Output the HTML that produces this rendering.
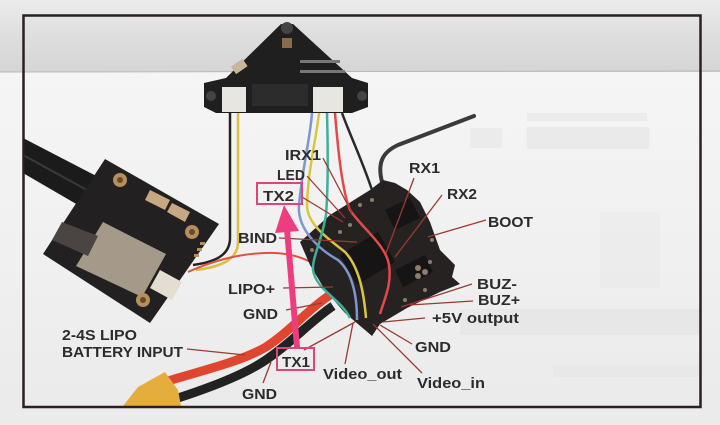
<!DOCTYPE html>
<html><head><meta charset="utf-8"><style>
html,body{margin:0;padding:0;width:720px;height:425px;overflow:hidden;background:#ececec}
svg{display:block}
text{font-family:"Liberation Sans",sans-serif;font-weight:bold;font-size:15px;fill:#2e2b2b}
</style></head><body>
<svg width="720" height="425" viewBox="0 0 720 425" xmlns="http://www.w3.org/2000/svg">
<defs>
<linearGradient id="top" x1="0" y1="0" x2="0" y2="1">
 <stop offset="0" stop-color="#ececec"/>
 <stop offset="0.5" stop-color="#dedede"/>
 <stop offset="1" stop-color="#d5d5d7"/>
</linearGradient>
<linearGradient id="bot" x1="0" y1="0" x2="0" y2="1">
 <stop offset="0" stop-color="#f7f7f7"/>
 <stop offset="0.6" stop-color="#f0f0f0"/>
 <stop offset="1" stop-color="#eaeaea"/>
</linearGradient>
</defs>
<!-- background -->
<rect x="0" y="0" width="720" height="425" fill="url(#bot)"/>
<rect x="0" y="0" width="720" height="72" fill="url(#top)"/>
<line x1="0" y1="72" x2="720" y2="71" stroke="#b9b9b9" stroke-width="1"/>
<rect x="0" y="408" width="720" height="17" fill="#ebebeb"/>
<!-- ghost text from paper -->
<g fill="#dcdcdc" opacity="0.35">
<rect x="470" y="128" width="32" height="20"/>
<rect x="527" y="127" width="122" height="22"/>
<rect x="527" y="113" width="120" height="8"/>
<rect x="600" y="212" width="60" height="76" opacity="0.5"/>
<rect x="460" y="309" width="242" height="26"/>
<rect x="553" y="365" width="150" height="12" opacity="0.6"/>
</g>

<!-- ribbon cable -->
<polygon points="23,138 104,180 90,212 23,173" fill="#1b1b1b"/>
<line x1="23" y1="155" x2="96" y2="195" stroke="#3a3a3a" stroke-width="2"/>

<!-- VTX board -->
<polygon points="105,159 219,224 150,323 43,254" fill="#222020"/>
<polygon points="103,222 166,254 142,297 76,266" fill="#a59a8a"/>
<polygon points="62,222 98,236 88,256 52,240" fill="#4a4542"/>
<polygon points="150,190 170,200 165,210 145,200" fill="#c7a882"/>
<polygon points="172,203 190,212 185,222 167,212" fill="#c7a882"/>
<polygon points="160,270 182,282 172,300 150,288" fill="#e4ded2"/>
<circle cx="120" cy="180" r="7" fill="#b58f5c"/><circle cx="120" cy="180" r="3" fill="#6b4a2a"/>
<circle cx="192" cy="232" r="7" fill="#b58f5c"/><circle cx="192" cy="232" r="3" fill="#6b4a2a"/>
<circle cx="143" cy="300" r="7" fill="#b58f5c"/><circle cx="143" cy="300" r="3" fill="#6b4a2a"/>
<g fill="#b58f5c"><rect x="200" y="242" width="5" height="3"/><rect x="197" y="248" width="5" height="3"/><rect x="194" y="254" width="5" height="3"/></g>

<!-- top triangle board -->
<polygon points="281,24 293,24 352,78 368,83 368,107 352,113 216,113 204,107 204,83 226,78" fill="#1f1f1f"/>
<circle cx="287" cy="28" r="6" fill="#444"/>
<rect x="282" y="38" width="10" height="10" fill="#8a6b4a"/>
<rect x="252" y="84" width="56" height="22" fill="#2c2c2c"/>
<rect x="232" y="62" width="14" height="9" fill="#c8b59a" transform="rotate(-35 239 66)"/>
<g fill="#777"><rect x="300" y="60" width="40" height="3"/><rect x="300" y="70" width="45" height="3"/></g>
<rect x="222" y="87" width="24" height="25" fill="#e8e6e0"/>
<rect x="313" y="87" width="30" height="25" fill="#e8e6e0"/>
<circle cx="211" cy="96" r="5" fill="#444"/><circle cx="362" cy="96" r="5" fill="#444"/>

<!-- VTX wires from left connector -->
<path d="M230,113 L230,238 C230,256 214,262 193,265" stroke="#222" stroke-width="2.5" fill="none"/>
<path d="M238,113 L238,242 C238,260 220,267 196,270" stroke="#d8c040" stroke-width="2.5" fill="none"/>

<!-- thin red LIPO wire -->
<path d="M188,272 C210,262 240,252 275,253 C300,254 325,265 340,288" stroke="#e0503f" stroke-width="2" fill="none"/>

<!-- antenna -->
<path d="M382,182 C377,162 383,152 398,145 L474,116" stroke="#3a3a3a" stroke-width="4" fill="none" stroke-linecap="round"/>

<!-- battery wires -->
<path d="M333,306 C312,320 292,342 270,357 C250,372 215,386 178,398" stroke="#222" stroke-width="9" fill="none"/>
<path d="M335,292 C312,305 292,330 266,347 C240,362 200,371 168,381" stroke="#e0452f" stroke-width="9" fill="none"/>
<polygon points="123,406 138,387 165,372 178,390 181,406" fill="#e4ad3c"/>

<!-- FC -->
<polygon points="300,242 330,215 370,190 383,180 395,183 407,190 420,202 430,222 440,250 455,265 452,277 460,284 440,292 407,308 380,324 372,336 365,330 345,313 325,290 310,265" fill="#262222"/>
<g fill="#161414">
<polygon points="340,255 378,232 395,262 357,285"/>
<polygon points="385,210 410,198 420,218 395,230"/>
<polygon points="395,270 425,255 433,272 403,287"/>
</g>
<g fill="#8c7d6c">
<circle cx="418" cy="268" r="3"/><circle cx="425" cy="272" r="3"/><circle cx="418" cy="276" r="3"/><circle cx="430" cy="262" r="2"/>
<circle cx="340" cy="232" r="2"/><circle cx="350" cy="225" r="2"/><circle cx="432" cy="240" r="2"/><circle cx="405" cy="300" r="2"/>
<circle cx="360" cy="205" r="2"/><circle cx="372" cy="200" r="2"/><circle cx="312" cy="250" r="2"/><circle cx="425" cy="290" r="2"/>
</g>

<!-- colored wires from right connector -->
<path d="M312,113 C310,140 302,170 299,205 C297,230 320,250 338,260 C352,272 357,295 357,320" stroke="#7d95d0" stroke-width="2.5" fill="none"/>
<path d="M319,113 C316,140 308,170 307,205 C307,225 330,240 345,252 C360,268 364,295 366,318" stroke="#d8c640" stroke-width="2.5" fill="none"/>
<path d="M327,113 C328,150 328,190 326,215 C322,240 312,258 313,270 C316,290 340,298 350,318" stroke="#3cb09a" stroke-width="2.5" fill="none"/>
<path d="M335,113 C338,150 342,190 350,210 C362,228 386,245 389,265 C392,285 384,300 380,314" stroke="#e04a4a" stroke-width="2.5" fill="none"/>
<path d="M342,113 C350,135 362,160 372,190" stroke="#2a2a2a" stroke-width="2.5" fill="none"/>

<!-- leader lines -->
<g stroke="#9a3a32" stroke-width="1.3" fill="none">
<line x1="323" y1="158" x2="352" y2="213"/>
<line x1="307" y1="176" x2="345" y2="218"/>
<line x1="302" y1="197" x2="343" y2="222"/>
<line x1="279" y1="238" x2="357" y2="242"/>
<line x1="414" y1="178" x2="386" y2="253"/>
<line x1="442" y1="195" x2="395" y2="257"/>
<line x1="486" y1="220" x2="428" y2="237"/>
<line x1="472" y1="284" x2="401" y2="307"/>
<line x1="473" y1="301" x2="410" y2="305"/>
<line x1="425" y1="318" x2="383" y2="322"/>
<line x1="412" y1="344" x2="380" y2="325"/>
<line x1="422" y1="373" x2="373" y2="324"/>
<line x1="345" y1="364" x2="353" y2="323"/>
<line x1="304" y1="350" x2="355" y2="322"/>
<line x1="263" y1="383" x2="271" y2="362"/>
<line x1="283" y1="288" x2="333" y2="287"/>
<line x1="286" y1="310" x2="322" y2="303"/>
<line x1="187" y1="349" x2="245" y2="355"/>
</g>

<!-- pink arrow -->
<polygon points="294,347 300,347 290,229 284,229" fill="#ee3d7f"/>
<polygon points="284,205 275,233 299,231" fill="#ee3d7f"/>
<rect x="257" y="183" width="45" height="21" fill="none" stroke="#e0457a" stroke-width="2"/>
<rect x="277" y="348" width="37" height="22" fill="none" stroke="#e0457a" stroke-width="2"/>

<!-- labels -->
<text x="285" y="160" textLength="36" lengthAdjust="spacingAndGlyphs">IRX1</text>
<text x="277" y="180" textLength="28" lengthAdjust="spacingAndGlyphs">LED</text>
<text x="263" y="201" textLength="31" lengthAdjust="spacingAndGlyphs">TX2</text>
<text x="409" y="173" textLength="31" lengthAdjust="spacingAndGlyphs">RX1</text>
<text x="447" y="199" textLength="30" lengthAdjust="spacingAndGlyphs">RX2</text>
<text x="488" y="227" textLength="45" lengthAdjust="spacingAndGlyphs">BOOT</text>
<text x="238" y="243" textLength="39" lengthAdjust="spacingAndGlyphs">BIND</text>
<text x="228" y="294" textLength="47" lengthAdjust="spacingAndGlyphs">LIPO+</text>
<text x="243" y="319" textLength="35" lengthAdjust="spacingAndGlyphs">GND</text>
<text x="62" y="340" textLength="75" lengthAdjust="spacingAndGlyphs">2-4S LIPO</text>
<text x="62" y="357" textLength="121" lengthAdjust="spacingAndGlyphs">BATTERY INPUT</text>
<text x="282" y="367" textLength="28" lengthAdjust="spacingAndGlyphs">TX1</text>
<text x="242" y="399" textLength="35" lengthAdjust="spacingAndGlyphs">GND</text>
<text x="323" y="379" textLength="79" lengthAdjust="spacingAndGlyphs">Video_out</text>
<text x="417" y="388" textLength="68" lengthAdjust="spacingAndGlyphs">Video_in</text>
<text x="477" y="289" textLength="40" lengthAdjust="spacingAndGlyphs">BUZ-</text>
<text x="478" y="305" textLength="42" lengthAdjust="spacingAndGlyphs">BUZ+</text>
<text x="432" y="323" textLength="87" lengthAdjust="spacingAndGlyphs">+5V output</text>
<text x="415" y="352" textLength="36" lengthAdjust="spacingAndGlyphs">GND</text>

<!-- frame -->
<rect x="23.5" y="15.5" width="677" height="391.5" fill="none" stroke="#2a2020" stroke-width="2.5"/>
</svg>
</body></html>
